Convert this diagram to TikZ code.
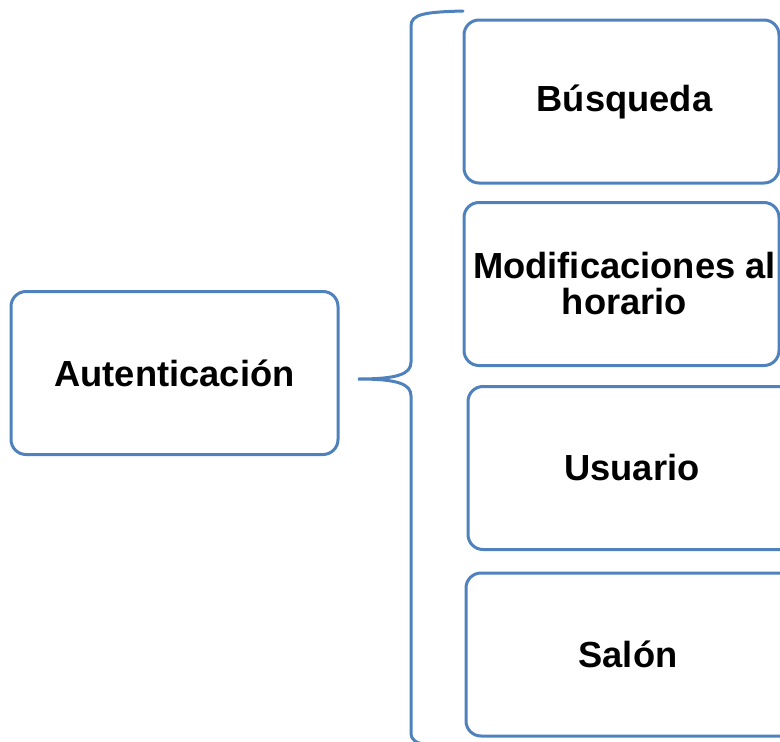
\documentclass[tikz,border=0pt]{standalone}
\usepackage{fontspec}
\setmainfont{Liberation Sans}
\usetikzlibrary{positioning}

\definecolor{boxblue}{HTML}{4F81BD}

\begin{document}
\begin{tikzpicture}[
    x=1pt, y=-1pt,
    line width=3pt
  ]

  % Styles
  \tikzstyle{item}=[draw=boxblue, shape=rectangle, rounded corners=15pt, minimum height=163pt, align=center, font=\fontsize{36.3}{36}\selectfont\bfseries, inner sep=0pt]

  \useasboundingbox (0,0) rectangle (780,742);

  % Main box
  \node[item, minimum width=327pt] (auth) at (174.5,373) {Autenticación};

  % Boxes on the right (the lower two run past the edge)
  \node[item, minimum width=315pt] (busq) at (621.5,101.5) {\hspace*{6pt}Búsqueda};
  \node[item, minimum width=315pt] (modif) at (621.5,284) {\hspace*{6pt}Modificaciones al\\\hspace*{6pt}horario};
  \node[item, minimum width=328pt] (user) at (632,468) {Usuario};
  \node[item, minimum width=334pt] (salon) at (633,654.5) {\hspace*{-10pt}Salón};

  % Brace
  \draw[boxblue, line cap=round] (463,11) .. controls (425,12) and (411,14) .. (411,26)
    -- (411,362) .. controls (411,374) and (398,379) .. (358,379)
    .. controls (398,379) and (411,384) .. (411,396)
    -- (411,732) .. controls (411,741) and (416,743) .. (428,745);

\end{tikzpicture}
\end{document}
